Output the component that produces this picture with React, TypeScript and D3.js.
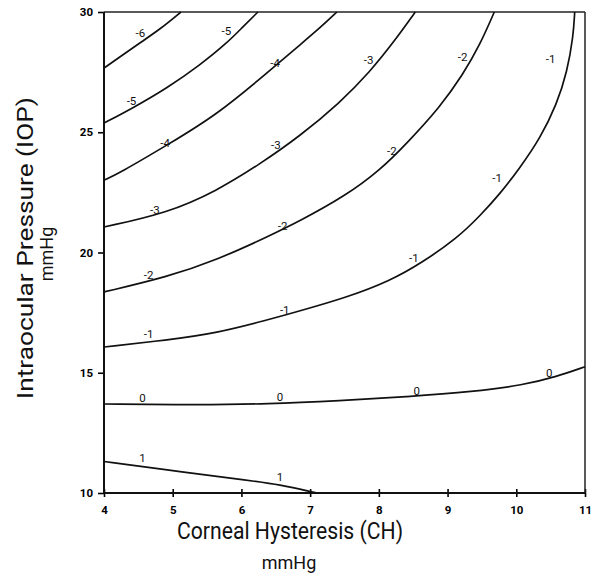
import React, { useRef, useEffect } from 'react'
import * as d3 from 'd3'

// contour lines: [CH, IOP]
const lineM6 = [[4.0, 27.67], [4.23, 28.13], [4.52, 28.71], [4.82, 29.29], [5.12, 30]]
const lineM5 = [[4.0, 25.38], [4.42, 26.01], [4.92, 26.84], [5.4, 27.8], [5.79, 28.71], [6.02, 29.38], [6.24, 30]]
const lineM4 = [[4.0, 23.01], [4.23, 23.31], [4.92, 24.47], [5.64, 25.72], [6.37, 27.46], [6.85, 28.63], [7.14, 29.33], [7.39, 30]]
const lineM3 = [[4.0, 21.06], [4.92, 21.64], [5.64, 22.56], [6.27, 23.68], [6.85, 24.84], [7.43, 26.22], [7.87, 27.51], [8.24, 28.84], [8.53, 30]]
const lineM2 = [[4.0, 18.36], [4.92, 18.98], [5.64, 19.69], [6.37, 20.64], [6.85, 21.31], [7.51, 22.35], [8.02, 23.43], [8.41, 24.55], [8.89, 26.05], [9.22, 27.38], [9.47, 28.63], [9.68, 30]]
const lineM1 = [[4.0, 16.07], [4.92, 16.36], [5.64, 16.65], [6.37, 17.19], [6.85, 17.57], [7.51, 18.11], [8.16, 18.81], [8.64, 19.6], [9.14, 20.6], [9.47, 21.52], [9.76, 22.43], [10.05, 23.51], [10.35, 24.76], [10.59, 26.17], [10.74, 27.51], [10.83, 29.0], [10.85, 30]]
const line0 = [[4.0, 13.7], [5.4, 13.66], [6.37, 13.7], [7.44, 13.84], [8.41, 14.0], [9.38, 14.21], [10.1, 14.49], [10.59, 14.84], [11.0, 15.25]]
const lineP1 = [[4.0, 11.31], [4.91, 10.96], [5.88, 10.61], [6.61, 10.33], [7.05, 10.02], [7.1, 10]]

const contourLines = [lineM6, lineM5, lineM4, lineM3, lineM2, lineM1, line0, lineP1]

// label positions [CH, IOP, text]
const contourLabels = [
  [4.53, 29.13, '-6'],
  [4.4, 26.31, '-5'], [5.78, 29.22, '-5'],
  [4.89, 24.55, '-4'], [6.49, 27.9, '-4'],
  [4.74, 21.77, '-3'], [6.5, 24.48, '-3'], [7.85, 28.0, '-3'],
  [4.65, 19.06, '-2'], [6.6, 21.1, '-2'], [8.19, 24.21, '-2'], [9.22, 28.12, '-2'],
  [4.65, 16.6, '-1'], [6.63, 17.61, '-1'], [8.51, 19.76, '-1'], [9.72, 23.09, '-1'], [10.5, 28.06, '-1'],
  [4.56, 13.94, '0'], [6.56, 14.0, '0'], [8.55, 14.25, '0'], [10.48, 14.98, '0'],
  [4.56, 11.45, '1'], [6.56, 10.68, '1'],
]

const xTicks = [4, 5, 6, 7, 8, 9, 10, 11]
const yTicks = [10, 15, 20, 25, 30]

export default function App({
  width = 602,
  height = 581,
  marginTop = 12,
  marginRight = 17,
  marginBottom = 88,
  marginLeft = 104
}) {
  const gx = useRef(null)
  const gy = useRef(null)

  const x = d3.scaleLinear().domain([4, 11]).range([marginLeft, width - marginRight])
  const y = d3.scaleLinear().domain([10, 30]).range([height - marginBottom, marginTop])

  const line = d3.line()
    .x(function (d) { return x(d[0]) })
    .y(function (d) { return y(d[1]) })
    .curve(d3.curveBasis)

  useEffect(() => {
    const ax = d3.select(gx.current)
    ax.call(d3.axisBottom(x).tickValues(xTicks).tickSize(4).tickSizeOuter(0).tickFormat(d3.format('d')))
    ax.select('.domain').remove()
    ax.selectAll('.tick line').attr('y1', -4).attr('stroke-width', 1.6)
    ax.selectAll('.tick text').attr('dy', '1.2em')
      .style('font-family', 'Roboto').style('font-size', '11.5px').style('font-weight', 700)

    const ay = d3.select(gy.current)
    ay.call(d3.axisLeft(y).tickValues(yTicks).tickSize(6).tickSizeOuter(0).tickFormat(d3.format('d')))
    ay.select('.domain').remove()
    ay.selectAll('.tick line').attr('stroke-width', 1.6)
    ay.selectAll('.tick text').attr('x', -11)
      .style('font-family', 'Roboto').style('font-size', '11.5px').style('font-weight', 700)
  }, [gx, gy, x, y])

  return (
    <svg width={width} height={height} style={{ position: 'absolute', left: 0, top: 0, background: '#fff' }}>
      <g ref={gx} transform={`translate(0,${height - marginBottom})`} />
      <g ref={gy} transform={`translate(${marginLeft},0)`} />

      {/* frame */}
      <line x1={marginLeft} y1={marginTop} x2={width - marginRight} y2={marginTop} stroke="#222" strokeWidth="1.5" />
      <line x1={width - marginRight} y1={marginTop} x2={width - marginRight} y2={height - marginBottom} stroke="#222" strokeWidth="1.5" />
      <line x1={marginLeft} y1={marginTop} x2={marginLeft} y2={height - marginBottom} stroke="#111" strokeWidth="2" />
      <line x1={marginLeft} y1={height - marginBottom} x2={width - marginRight} y2={height - marginBottom} stroke="#111" strokeWidth="2" />

      {contourLines.map((c, i) => (
        <path key={i} fill="none" stroke="#111" strokeWidth="1.7" d={line(c)} />
      ))}

      <g fontFamily="Roboto" fontSize="11.5" fill="#111" textAnchor="middle">
        {contourLabels.map((l, i) => (
          <text key={i} x={x(l[0])} y={y(l[1])} dy="0.35em">{l[2]}</text>
        ))}
      </g>

      <text x={290} y={539} textAnchor="middle" fontFamily="Roboto" fontSize="23" fill="#111"
        textLength="226" lengthAdjust="spacingAndGlyphs">Corneal Hysteresis (CH)</text>
      <text x={289} y={569} textAnchor="middle" fontFamily="Roboto" fontSize="18" fill="#111">mmHg</text>

      <text transform="translate(33,248) rotate(-90)" textAnchor="middle" fontFamily="Roboto" fontSize="22" fill="#111"
        textLength="302" lengthAdjust="spacingAndGlyphs">Intraocular Pressure (IOP)</text>
      <text transform="translate(53,254) rotate(-90)" textAnchor="middle" fontFamily="Roboto" fontSize="18" fill="#111">mmHg</text>
    </svg>
  )
}
